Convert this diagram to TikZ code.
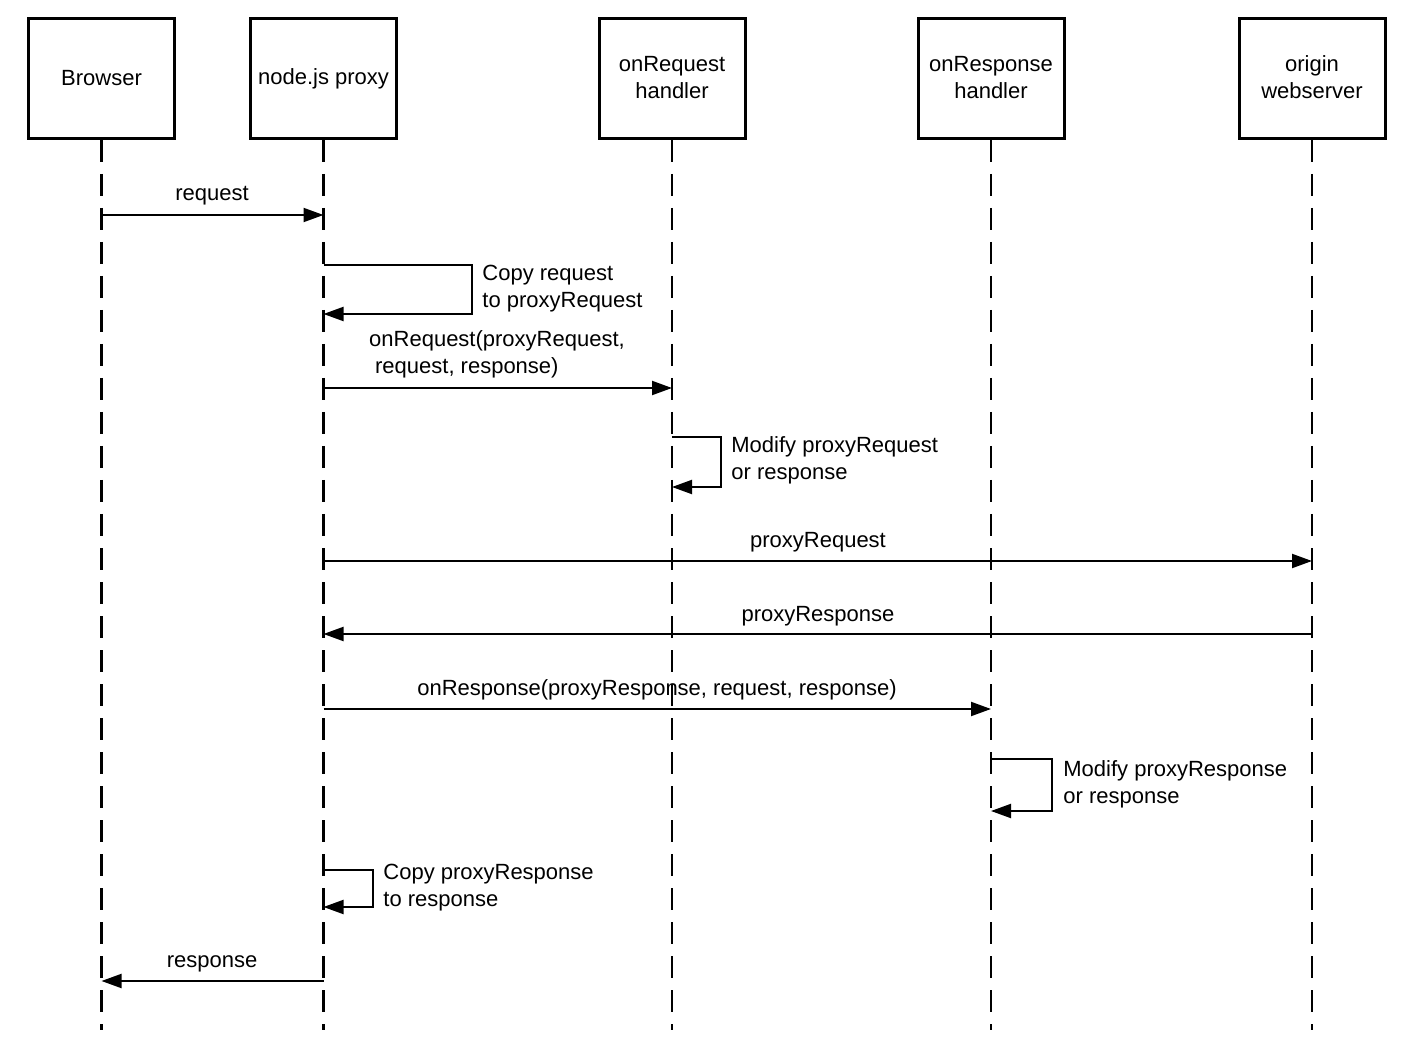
\documentclass[tikz,border=0pt]{standalone}
\usepackage{fontspec}
\setmainfont{Liberation Sans}
\usetikzlibrary{arrows.meta}
\begin{document}
\begin{tikzpicture}[x=0.5pt,y=-0.5pt,
  actor/.style={draw, line width=1.5pt, minimum width=73pt, minimum height=60pt, align=center, inner sep=0pt, font=\fontsize{11}{13.5}\selectfont},
  life/.style={line width=1.4pt, dash pattern=on 11pt off 6pt},
  msg/.style={line width=1pt, -{Triangle[length=10pt,width=7pt]}},
  lbl/.style={font=\fontsize{11}{13.5}\selectfont, inner sep=0pt, anchor=base},
  note/.style={lbl, anchor=base west, align=left}]
\useasboundingbox (0,0) rectangle (1410,1048);
\node[actor] (browser) at (101.5,78.5) {Browser};
\node[actor] (proxy) at (323.5,78.5) {node.js proxy};
\node[actor] (onreq) at (672,78.5) {onRequest\\handler\rule[-1.2pt]{0pt}{0pt}};
\node[actor] (onres) at (991,78.5) {onResponse\\handler\rule[-1.2pt]{0pt}{0pt}};
\node[actor] (origin) at (1312,78.5) {origin\\webserver\rule[-1.2pt]{0pt}{0pt}};
\foreach \n in {browser,proxy,onreq,onres,origin}
  \draw[life] (\n.south) -- (\n.south |- 0,1030);
% request
\draw[msg] (browser.south |- 0,215) -- (proxy.south |- 0,215);
\node[lbl] (l1) at (212,201) {request};
% copy request
\draw[msg] (proxy.south |- 0,265) -- (472,265) -- (472,314) -- (proxy.south |- 0,314);
\node[note] (l2) at (482,307.5) {Copy request\\to proxyRequest};
% onRequest
\draw[msg] (proxy.south |- 0,388) -- (onreq.south |- 0,388);
\node[lbl, align=left] (l3) at (497,373.5) {onRequest(proxyRequest,\\\hspace*{0.27em}request, response)};
% modify proxyRequest
\draw[msg] (onreq.south |- 0,437) -- (721,437) -- (721,487) -- (onreq.south |- 0,487);
\node[note] (l4) at (731,480) {Modify proxyRequest\\or response};
% proxyRequest
\draw[msg] (proxy.south |- 0,561) -- (origin.south |- 0,561);
\node[lbl] (l5) at (818,547) {proxyRequest};
% proxyResponse
\draw[msg] (origin.south |- 0,634) -- (proxy.south |- 0,634);
\node[lbl] (l6) at (818,621) {proxyResponse};
% onResponse
\draw[msg] (proxy.south |- 0,709) -- (onres.south |- 0,709);
\node[lbl] (l7) at (657,695) {onResponse(proxyResponse, request, response)};
% modify proxyResponse
\draw[msg] (onres.south |- 0,759) -- (1052,759) -- (1052,811) -- (onres.south |- 0,811);
\node[note] (l8) at (1063,803) {Modify proxyResponse\\or response};
% copy proxyResponse
\draw[msg] (proxy.south |- 0,870) -- (373,870) -- (373,907) -- (proxy.south |- 0,907);
\node[note] (l9) at (383,906) {Copy proxyResponse\\to response};
% response
\draw[msg] (proxy.south |- 0,981) -- (browser.south |- 0,981);
\node[lbl] (l10) at (212,967) {response};
\end{tikzpicture}
\end{document}
